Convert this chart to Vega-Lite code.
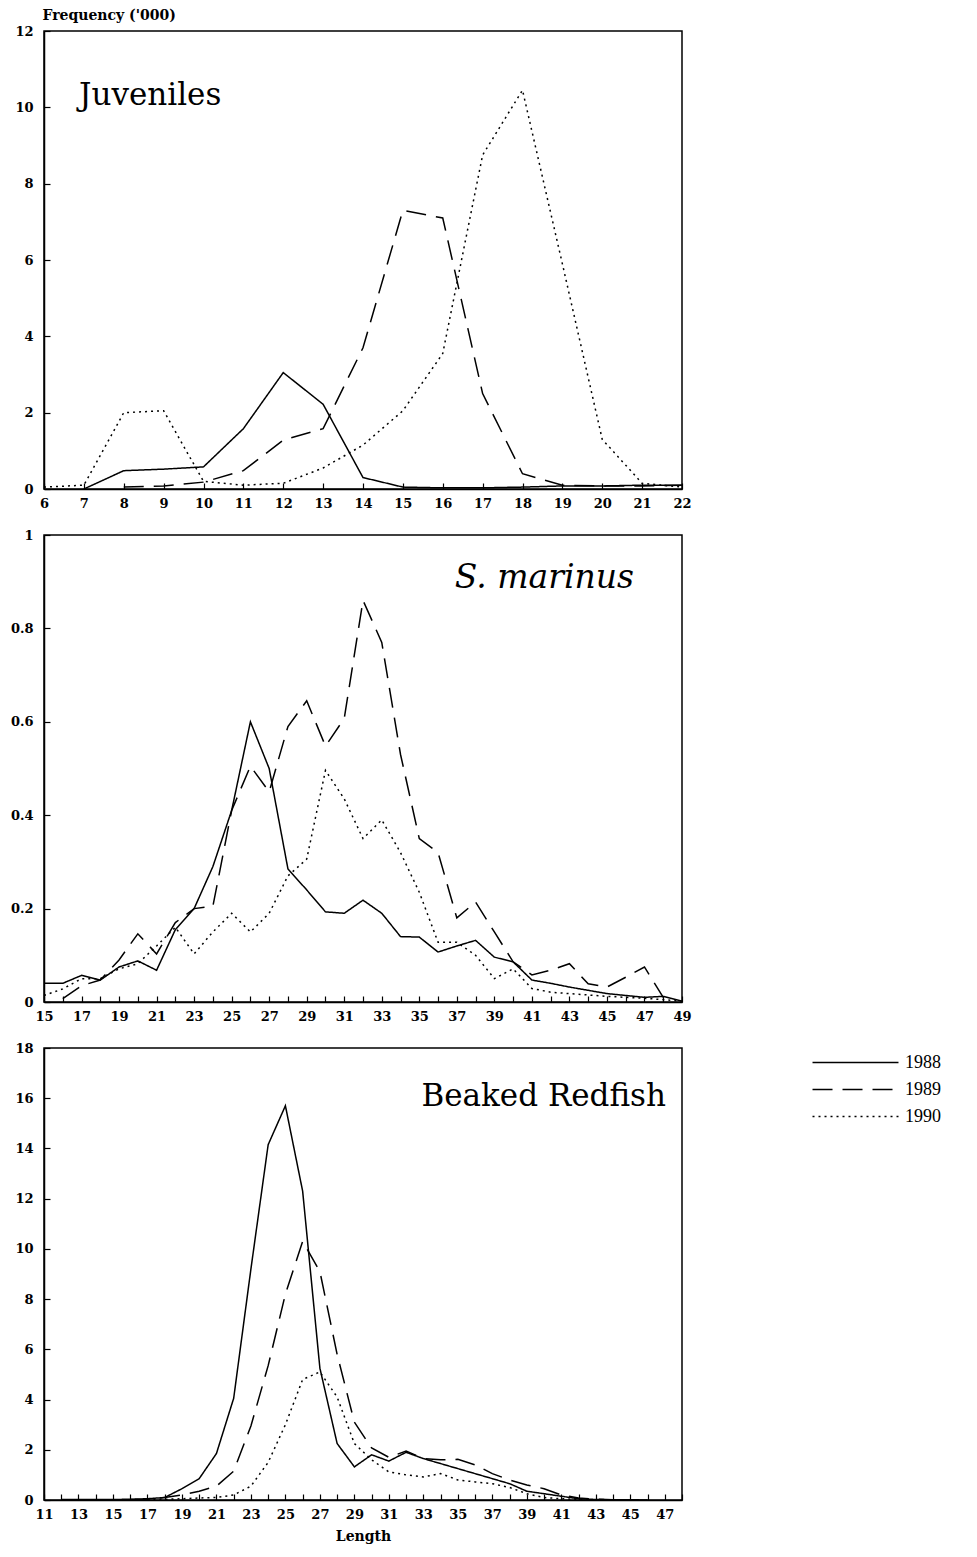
{
  "$schema": "https://vega.github.io/schema/vega-lite/v6.json",
  "background": "white",
  "padding": {"left": 9, "top": 7, "right": 5, "bottom": 5},
  "config": {
    "view": {"stroke": "black", "strokeWidth": 1.5},
    "axis": {
      "domainColor": "black", "domainWidth": 1.5, "tickColor": "black", "tickWidth": 1.2,
      "tickSize": -6, "grid": false, "labelFlush": false, "labelOverlap": false,
      "labelFont": "DejaVu Serif", "labelFontWeight": "bold", "labelFontSize": 13, "labelColor": "black",
      "titleFont": "DejaVu Serif", "titleFontWeight": "bold", "titleFontSize": 14, "titleColor": "black"
    },
    "axisX": {"labelPadding": 14},
    "axisY": {"labelPadding": 17},
    "title": {"font": "DejaVu Serif", "fontSize": 31, "fontWeight": "normal", "color": "black"},
    "line": {"strokeWidth": 1.5, "color": "black"}
  },
  "datasets": {
    "d": [
      {"panel": "J", "length": 6, "1988": null, "1989": null, "1990": 0.05},
      {"panel": "J", "length": 7, "1988": 0, "1989": null, "1990": 0.1},
      {"panel": "J", "length": 8, "1988": 0.48, "1989": 0.05, "1990": 2.0},
      {"panel": "J", "length": 9, "1988": 0.52, "1989": 0.08, "1990": 2.05},
      {"panel": "J", "length": 10, "1988": 0.58, "1989": 0.18, "1990": 0.2},
      {"panel": "J", "length": 11, "1988": 1.58, "1989": 0.48, "1990": 0.1},
      {"panel": "J", "length": 12, "1988": 3.05, "1989": 1.28, "1990": 0.15},
      {"panel": "J", "length": 13, "1988": 2.22, "1989": 1.58, "1990": 0.55},
      {"panel": "J", "length": 14, "1988": 0.3, "1989": 3.7, "1990": 1.15},
      {"panel": "J", "length": 15, "1988": 0.05, "1989": 7.3, "1990": 2.05},
      {"panel": "J", "length": 16, "1988": 0.03, "1989": 7.1, "1990": 3.55},
      {"panel": "J", "length": 17, "1988": 0.03, "1989": 2.5, "1990": 8.75},
      {"panel": "J", "length": 18, "1988": 0.05, "1989": 0.4, "1990": 10.45},
      {"panel": "J", "length": 19, "1988": 0.08, "1989": 0.1, "1990": 5.9},
      {"panel": "J", "length": 20, "1988": 0.08, "1989": 0.08, "1990": 1.3},
      {"panel": "J", "length": 21, "1988": 0.1, "1989": 0.08, "1990": 0.15},
      {"panel": "J", "length": 22, "1988": 0.1, "1989": 0.1, "1990": 0.05},

      {"panel": "S", "length": 15, "1988": 0.04, "1989": null, "1990": 0.014},
      {"panel": "S", "length": 16, "1988": 0.04, "1989": 0.007, "1990": 0.028},
      {"panel": "S", "length": 17, "1988": 0.057, "1989": 0.035, "1990": 0.05},
      {"panel": "S", "length": 18, "1988": 0.047, "1989": 0.047, "1990": 0.05},
      {"panel": "S", "length": 19, "1988": 0.075, "1989": 0.09, "1990": 0.071},
      {"panel": "S", "length": 20, "1988": 0.088, "1989": 0.146, "1990": 0.082},
      {"panel": "S", "length": 21, "1988": 0.068, "1989": 0.103, "1990": 0.12},
      {"panel": "S", "length": 22, "1988": 0.155, "1989": 0.17, "1990": 0.16},
      {"panel": "S", "length": 23, "1988": 0.2, "1989": 0.2, "1990": 0.103},
      {"panel": "S", "length": 24, "1988": 0.29, "1989": 0.205, "1990": 0.15},
      {"panel": "S", "length": 25, "1988": 0.41, "1989": 0.41, "1990": 0.19},
      {"panel": "S", "length": 26, "1988": 0.6, "1989": 0.505, "1990": 0.15},
      {"panel": "S", "length": 27, "1988": 0.5, "1989": 0.45, "1990": 0.19},
      {"panel": "S", "length": 28, "1988": 0.285, "1989": 0.59, "1990": 0.27},
      {"panel": "S", "length": 29, "1988": 0.24, "1989": 0.645, "1990": 0.306},
      {"panel": "S", "length": 30, "1988": 0.193, "1989": 0.548, "1990": 0.496},
      {"panel": "S", "length": 31, "1988": 0.19, "1989": 0.607, "1990": 0.435},
      {"panel": "S", "length": 32, "1988": 0.218, "1989": 0.86, "1990": 0.35},
      {"panel": "S", "length": 33, "1988": 0.19, "1989": 0.77, "1990": 0.39},
      {"panel": "S", "length": 34, "1988": 0.14, "1989": 0.53, "1990": 0.32},
      {"panel": "S", "length": 35, "1988": 0.139, "1989": 0.35, "1990": 0.235},
      {"panel": "S", "length": 36, "1988": 0.107, "1989": 0.32, "1990": 0.128},
      {"panel": "S", "length": 37, "1988": 0.12, "1989": 0.18, "1990": 0.128},
      {"panel": "S", "length": 38, "1988": 0.132, "1989": 0.214, "1990": 0.1},
      {"panel": "S", "length": 39, "1988": 0.096, "1989": 0.15, "1990": 0.05},
      {"panel": "S", "length": 40, "1988": 0.086, "1989": 0.086, "1990": 0.071},
      {"panel": "S", "length": 41, "1988": 0.047, "1989": 0.058, "1990": 0.029},
      {"panel": "S", "length": 42, "1988": 0.04, "1989": 0.068, "1990": 0.021},
      {"panel": "S", "length": 43, "1988": 0.032, "1989": 0.082, "1990": 0.018},
      {"panel": "S", "length": 44, "1988": 0.025, "1989": 0.039, "1990": 0.015},
      {"panel": "S", "length": 45, "1988": 0.018, "1989": 0.032, "1990": 0.012},
      {"panel": "S", "length": 46, "1988": 0.014, "1989": 0.053, "1990": 0.01},
      {"panel": "S", "length": 47, "1988": 0.01, "1989": 0.075, "1990": 0.008},
      {"panel": "S", "length": 48, "1988": 0.012, "1989": 0.01, "1990": 0.005},
      {"panel": "S", "length": 49, "1988": 0.002, "1989": null, "1990": 0.002},

      {"panel": "B", "length": 12, "1988": 0.02, "1989": null, "1990": null},
      {"panel": "B", "length": 13, "1988": 0.02, "1989": null, "1990": null},
      {"panel": "B", "length": 14, "1988": 0.02, "1989": null, "1990": null},
      {"panel": "B", "length": 15, "1988": 0.02, "1989": null, "1990": null},
      {"panel": "B", "length": 16, "1988": 0.03, "1989": 0.02, "1990": null},
      {"panel": "B", "length": 17, "1988": 0.05, "1989": 0.03, "1990": 0.02},
      {"panel": "B", "length": 18, "1988": 0.1, "1989": 0.1, "1990": 0.03},
      {"panel": "B", "length": 19, "1988": 0.45, "1989": 0.2, "1990": 0.05},
      {"panel": "B", "length": 20, "1988": 0.85, "1989": 0.35, "1990": 0.08},
      {"panel": "B", "length": 21, "1988": 1.85, "1989": 0.55, "1990": 0.1},
      {"panel": "B", "length": 22, "1988": 4.05, "1989": 1.15, "1990": 0.2},
      {"panel": "B", "length": 23, "1988": 9.2, "1989": 2.95, "1990": 0.55},
      {"panel": "B", "length": 24, "1988": 14.15, "1989": 5.35, "1990": 1.5},
      {"panel": "B", "length": 25, "1988": 15.7, "1989": 8.2, "1990": 3.0},
      {"panel": "B", "length": 26, "1988": 12.3, "1989": 10.3, "1990": 4.8},
      {"panel": "B", "length": 27, "1988": 5.25, "1989": 9.1, "1990": 5.1},
      {"panel": "B", "length": 28, "1988": 2.25, "1989": 5.8, "1990": 4.1},
      {"panel": "B", "length": 29, "1988": 1.32, "1989": 3.1, "1990": 2.25},
      {"panel": "B", "length": 30, "1988": 1.8, "1989": 2.07, "1990": 1.6},
      {"panel": "B", "length": 31, "1988": 1.55, "1989": 1.7, "1990": 1.12},
      {"panel": "B", "length": 32, "1988": 1.9, "1989": 1.95, "1990": 1.0},
      {"panel": "B", "length": 33, "1988": 1.65, "1989": 1.65, "1990": 0.92},
      {"panel": "B", "length": 34, "1988": 1.45, "1989": 1.6, "1990": 1.05},
      {"panel": "B", "length": 35, "1988": 1.25, "1989": 1.62, "1990": 0.8},
      {"panel": "B", "length": 36, "1988": 1.05, "1989": 1.4, "1990": 0.72},
      {"panel": "B", "length": 37, "1988": 0.85, "1989": 1.05, "1990": 0.65},
      {"panel": "B", "length": 38, "1988": 0.65, "1989": 0.8, "1990": 0.5},
      {"panel": "B", "length": 39, "1988": 0.35, "1989": 0.6, "1990": 0.25},
      {"panel": "B", "length": 40, "1988": 0.25, "1989": 0.45, "1990": 0.1},
      {"panel": "B", "length": 41, "1988": 0.15, "1989": 0.2, "1990": 0.05},
      {"panel": "B", "length": 42, "1988": 0.05, "1989": 0.08, "1990": 0.02},
      {"panel": "B", "length": 43, "1988": 0.02, "1989": 0.03, "1990": 0.01},
      {"panel": "B", "length": 44, "1988": 0.01, "1989": 0.01, "1990": null},
      {"panel": "B", "length": 45, "1988": 0.01, "1989": null, "1990": null},
      {"panel": "B", "length": 46, "1988": 0.0, "1989": null, "1990": null}
    ]
  },
  "bounds": "flush",
  "spacing": 46,
  "resolve": {"scale": {"strokeDash": "independent"}, "legend": {"strokeDash": "independent"}},
  "vconcat": [
    {
      "width": 638, "height": 458,
      "title": {"text": "Juveniles", "anchor": "start", "frame": "group", "offset": 0, "baseline": "alphabetic", "dx": 35, "dy": 128},
      "data": {"name": "d"},
      "transform": [
        {"filter": "datum.panel == 'J'"},
        {"fold": ["1988", "1989", "1990"], "as": ["year", "freq"]},
        {"filter": "datum.freq != null"}
      ],
      "mark": {"type": "line", "color": "black", "strokeWidth": 1.5},
      "encoding": {
        "x": {"field": "length", "type": "quantitative",
              "scale": {"domain": [6, 22], "nice": false, "zero": false},
              "axis": {"title": null, "values": [6,7,8,9,10,11,12,13,14,15,16,17,18,19,20,21,22]}},
        "y": {"field": "freq", "type": "quantitative",
              "scale": {"domain": [0, 12], "nice": false},
              "axis": {"title": "Frequency ('000)", "titleAngle": 0, "titleAlign": "left", "titleBaseline": "bottom", "titleX": -2, "titleY": -9, "values": [0,2,4,6,8,10,12]}},
        "strokeDash": {"field": "year", "type": "nominal",
                       "scale": {"domain": ["1988", "1989", "1990"], "range": [[1, 0], [20, 10], [2, 4]]},
                       "legend": null}
      }
    },
    {
      "width": 638, "height": 467,
      "title": {"text": "S. marinus", "anchor": "end", "frame": "group", "offset": 0, "baseline": "alphabetic", "fontStyle": "italic", "fontSize": 33, "dx": -48, "dy": 92},
      "data": {"name": "d"},
      "transform": [
        {"filter": "datum.panel == 'S'"},
        {"fold": ["1988", "1989", "1990"], "as": ["year", "freq"]},
        {"filter": "datum.freq != null"}
      ],
      "mark": {"type": "line", "color": "black", "strokeWidth": 1.5},
      "encoding": {
        "x": {"field": "length", "type": "quantitative",
              "scale": {"domain": [15, 49], "nice": false, "zero": false},
              "axis": {"title": null, "values": [15,16,17,18,19,20,21,22,23,24,25,26,27,28,29,30,31,32,33,34,35,36,37,38,39,40,41,42,43,44,45,46,47,48,49],
                       "labelExpr": "datum.value % 2 == 1 ? datum.label : ''"}},
        "y": {"field": "freq", "type": "quantitative",
              "scale": {"domain": [0, 1], "nice": false},
              "axis": {"title": null, "values": [0, 0.2, 0.4, 0.6, 0.8, 1], "format": "~g"}},
        "strokeDash": {"field": "year", "type": "nominal",
                       "scale": {"domain": ["1988", "1989", "1990"], "range": [[1, 0], [20, 10], [2, 4]]},
                       "legend": null}
      }
    },
    {
      "width": 638, "height": 452,
      "title": {"text": "Beaked Redfish", "anchor": "end", "frame": "group", "offset": 0, "baseline": "alphabetic", "dx": -16, "dy": 95},
      "data": {"name": "d"},
      "transform": [
        {"filter": "datum.panel == 'B'"},
        {"fold": ["1988", "1989", "1990"], "as": ["year", "freq"]},
        {"filter": "datum.freq != null"}
      ],
      "mark": {"type": "line", "color": "black", "strokeWidth": 1.5},
      "encoding": {
        "x": {"field": "length", "type": "quantitative",
              "scale": {"domain": [11, 48], "nice": false, "zero": false},
              "axis": {"title": "Length", "titlePadding": 8, "values": [11,12,13,14,15,16,17,18,19,20,21,22,23,24,25,26,27,28,29,30,31,32,33,34,35,36,37,38,39,40,41,42,43,44,45,46,47,48],
                       "labelExpr": "datum.value % 2 == 1 ? datum.label : ''"}},
        "y": {"field": "freq", "type": "quantitative",
              "scale": {"domain": [0, 18], "nice": false},
              "axis": {"title": null, "values": [0,2,4,6,8,10,12,14,16,18]}},
        "strokeDash": {"field": "year", "type": "nominal",
                       "scale": {"domain": ["1988", "1989", "1990"], "range": [[1, 0], [20, 10], [2, 4]]},
                       "legend": {"orient": "none", "legendX": 800, "legendY": 3, "title": null,
                                  "symbolType": "M-4,0H4", "symbolSize": 462, "symbolStrokeWidth": 1.5,
                                  "symbolStrokeColor": "black", "labelFont": "Liberation Serif", "labelFontSize": 18,
                                  "labelColor": "black", "labelOffset": 38, "rowPadding": 6}}
      }
    }
  ]
}
